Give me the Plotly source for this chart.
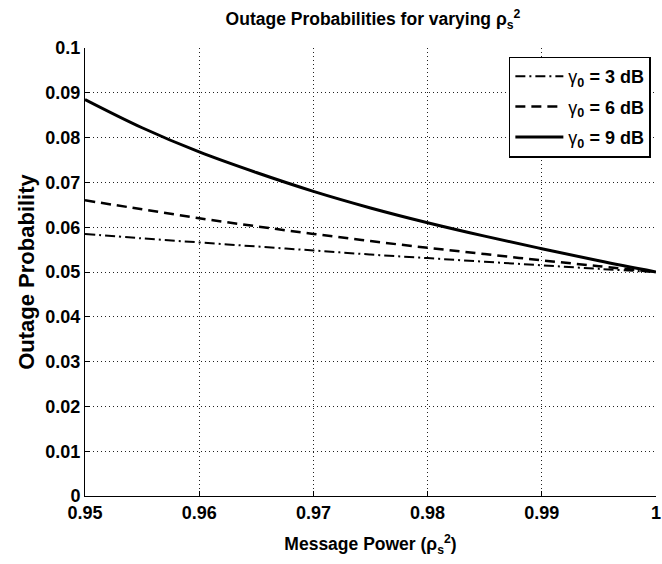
import plotly.graph_objects as go

x_vals = [0.95, 0.955, 0.96, 0.965, 0.97, 0.975, 0.98, 0.985, 0.99, 0.995, 1.0]
p_3db = [0.0585, 0.0575, 0.0566, 0.0557, 0.0548, 0.0539, 0.0531, 0.0523, 0.0515, 0.0507, 0.0500]
p_6db = [0.0660, 0.0640, 0.0620, 0.0602, 0.0585, 0.0569, 0.0554, 0.0540, 0.0526, 0.0513, 0.0500]
p_9db = [0.0885, 0.0822, 0.0768, 0.0722, 0.0680, 0.0643, 0.0610, 0.0580, 0.0552, 0.0525, 0.0500]

series_names = ["γ<sub><b>0</b></sub><b> = 3 dB</b>", "γ<sub><b>0</b></sub><b> = 6 dB</b>", "γ<sub><b>0</b></sub><b> = 9 dB</b>"]

x_ticks = [0.95, 0.96, 0.97, 0.98, 0.99, 1.0]
x_ticktext = ["0.95", "0.96", "0.97", "0.98", "0.99", "1"]
y_ticks = [0, 0.01, 0.02, 0.03, 0.04, 0.05, 0.06, 0.07, 0.08, 0.09, 0.1]
y_ticktext = ["0", "0.01", "0.02", "0.03", "0.04", "0.05", "0.06", "0.07", "0.08", "0.09", "0.1"]

font = "Liberation Sans, Arial, sans-serif"

fig = go.Figure()
fig.add_trace(go.Scatter(x=x_vals, y=p_3db, mode="lines", name=series_names[0], legendgroup="a",
                         line=dict(color="black", width=2, dash="10px,4px,2px,4px", shape="spline")))
fig.add_trace(go.Scatter(x=x_vals, y=p_6db, mode="lines", name=series_names[1], legendgroup="b",
                         line=dict(color="black", width=2.5, dash="10px,6px", shape="spline")))
fig.add_trace(go.Scatter(x=x_vals, y=p_9db, mode="lines", name=series_names[2], legendgroup="c",
                         line=dict(color="black", width=3, shape="spline")))

fig.update_layout(
    width=662, height=564,
    margin=dict(l=85, r=1, t=48, b=68),
    paper_bgcolor="white", plot_bgcolor="white",
    font=dict(family=font, size=17, color="black"),
    title=dict(text="<b>Outage Probabilities for varying ρ<sub>s</sub><sup>2</sup></b>",
               x=(373 / 662), xanchor="center", yref="container", y=1 - 19 / 564, yanchor="middle",
               font=dict(family=font, size=17.5, color="black")),
    showlegend=True,
    legend=dict(x=0.991, xanchor="right", y=0.981, yanchor="top",
                bgcolor="white", bordercolor="black", borderwidth=1.5,
                font=dict(family=font, size=18, color="black"),
                tracegroupgap=4, itemwidth=48),
    xaxis=dict(range=[0.95, 1.0], tickvals=x_ticks, ticktext=x_ticktext,
               showgrid=True, gridcolor="#222222", griddash="1px,3px", gridwidth=1,
               zeroline=False, showline=True, linecolor="black", linewidth=1,
               ticks="inside", ticklen=5, tickcolor="black", ticklabeloverflow="allow",
               tickfont=dict(family=font, size=18, color="black", weight="bold"),
               title=dict(text="<b>Message Power (ρ<sub>s</sub><sup>2</sup>)</b>", standoff=16,
                          font=dict(family=font, size=17.5, color="black"))),
    yaxis=dict(range=[0, 0.1], tickvals=y_ticks, ticktext=y_ticktext,
               showgrid=True, gridcolor="#222222", griddash="1px,3px", gridwidth=1,
               zeroline=False, showline=True, linecolor="black", linewidth=1,
               ticks="inside", ticklen=5, tickcolor="black",
               tickfont=dict(family=font, size=18, color="black", weight="bold"),
               title=dict(text="<b>Outage Probability</b>", standoff=4,
                          font=dict(family=font, size=22, color="black"))),
)

fig.write_html("out.html", config={"displayModeBar": False},
               post_script="document.body.style.margin='0px';")
